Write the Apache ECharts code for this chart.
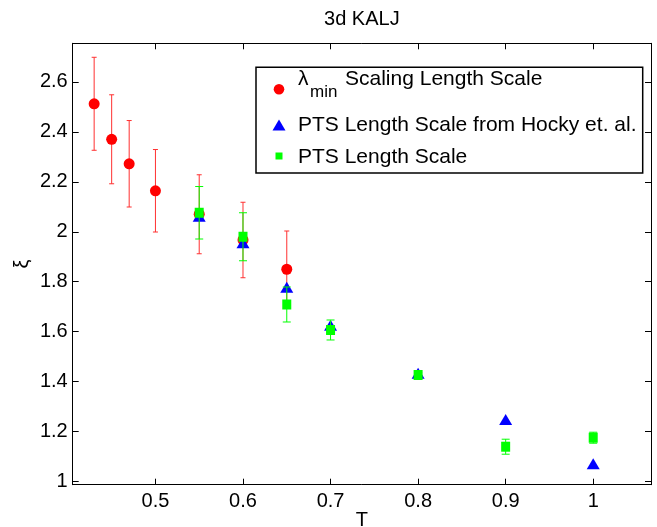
<!DOCTYPE html>
<html>
<head>
<meta charset="utf-8">
<script src="https://cdn.jsdelivr.net/npm/echarts@6/dist/echarts.min.js"></script>
<style>html,body{margin:0;padding:0;background:#fff}#c{width:657px;height:527px}</style>
</head>
<body>
<div id="c"></div>
<script>
// ---- data ----
const redX   = [0.43, 0.45, 0.47, 0.50, 0.55, 0.60, 0.65];
const redY   = [2.512, 2.370, 2.272, 2.164, 2.070, 1.967, 1.850];
const redErr = [0.186, 0.178, 0.173, 0.165, 0.158, 0.151, 0.153];

const blueX  = [0.55, 0.60, 0.65, 0.70, 0.80, 0.90, 1.00];
const blueY  = [2.062, 1.956, 1.778, 1.626, 1.434, 1.249, 1.072];

const greenX   = [0.55, 0.60, 0.65, 0.70, 0.80, 0.90, 1.00];
const greenY   = [2.076, 1.980, 1.709, 1.607, 1.427, 1.140, 1.176];
const greenErr = [0.105, 0.096, 0.070, 0.040, 0.010, 0.030, 0.022];

const xTicks = [0.5, 0.6, 0.7, 0.8, 0.9, 1];
const yTicks = [1, 1.2, 1.4, 1.6, 1.8, 2, 2.2, 2.4, 2.6];
const xMin = 0.4055, xMax = 1.066;
const yMin = 0.988, yMax = 2.754;

const titleText = '3d KALJ';
const xName = 'T';
const yName = 'ξ';
const legendNames = ['Scaling Length Scale', 'PTS Length Scale from Hocky et. al.', 'PTS Length Scale'];

// ---- build ----
const FONT = '"Liberation Sans", Arial, sans-serif';
const pts = (xs, ys) => xs.map((x, i) => [x, ys[i]]);
const errs = (xs, ys, es) => xs.map((x, i) => [x, ys[i] - es[i], ys[i] + es[i]]);

function errRender(capHalf, color) {
  return function (params, api) {
    const x = api.value(0), lo = api.value(1), hi = api.value(2);
    const a = api.coord([x, lo]), b = api.coord([x, hi]);
    const st = { stroke: color, lineWidth: 1 };
    return {
      type: 'group',
      children: [
        { type: 'line', shape: { x1: a[0], y1: a[1], x2: b[0], y2: b[1] }, style: st },
        { type: 'line', shape: { x1: a[0] - capHalf, y1: a[1], x2: a[0] + capHalf, y2: a[1] }, style: st },
        { type: 'line', shape: { x1: b[0] - capHalf, y1: b[1], x2: b[0] + capHalf, y2: b[1] }, style: st }
      ]
    };
  };
}

const axisLineStyle = { lineStyle: { color: '#000', width: 1 } };
function xAx(pos, labels) {
  return {
    type: 'value', position: pos, min: xMin, max: xMax,
    axisLine: Object.assign({ show: true, onZero: false }, axisLineStyle),
    axisTick: { show: true, inside: true, length: 6, customValues: xTicks, lineStyle: { color: '#000' } },
    axisLabel: { show: labels, customValues: xTicks, color: '#000', fontSize: 20, fontFamily: FONT, margin: 7,
                 formatter: v => String(Math.round(v * 10) / 10) },
    splitLine: { show: false }
  };
}
function yAx(pos, labels) {
  return {
    type: 'value', position: pos, min: yMin, max: yMax,
    axisLine: Object.assign({ show: true, onZero: false }, axisLineStyle),
    axisTick: { show: true, inside: true, length: 6, customValues: yTicks, lineStyle: { color: '#000' } },
    axisLabel: { show: labels, customValues: yTicks, color: '#000', fontSize: 20, fontFamily: FONT, margin: 5,
                 formatter: v => String(Math.round(v * 10) / 10) },
    splitLine: { show: false }
  };
}

const chart = echarts.init(document.getElementById('c'), null, { renderer: 'canvas' });
const gL = 72.7, gR = 6, gT = 43.3, gB = 42.3;
const plotCx = gL + (657 - gL - gR) / 2;

const lx = 256, ly = 67.3, lw = 386.7, lh = 105.7;
const legendTxt = { fill: '#000', fontSize: 21, fontFamily: FONT, verticalAlign: 'middle' };

chart.setOption({
  animation: false,
  backgroundColor: '#fff',
  grid: { left: gL, right: gR, top: gT, bottom: gB, containLabel: false, outerBoundsMode: 'none' },
  xAxis: [xAx('bottom', true), xAx('top', false)],
  yAxis: [yAx('left', true), yAx('right', false)],
  series: [
    { type: 'custom', name: 'redErr', xAxisIndex: 0, yAxisIndex: 0, renderItem: errRender(2.5, '#ff3030'),
      data: errs(redX, redY, redErr), z: 1 },
    { type: 'scatter', name: legendNames[0], symbol: 'circle', symbolSize: 11,
      itemStyle: { color: '#ff0000', opacity: 1 }, data: pts(redX, redY), z: 2 },
    { type: 'scatter', name: legendNames[1], symbol: 'triangle', symbolSize: [13, 11],
      itemStyle: { color: '#0000ff', opacity: 1 }, data: pts(blueX, blueY), z: 3 },
    { type: 'custom', name: 'greenErr', renderItem: errRender(4, '#00ff00'),
      data: errs(greenX, greenY, greenErr), z: 4 },
    { type: 'scatter', name: legendNames[2], symbol: 'rect', symbolSize: [9, 10],
      itemStyle: { color: '#00ff00', opacity: 1 }, data: pts(greenX, greenY), z: 5 }
  ],
  graphic: [
    { type: 'text', x: plotCx, y: 19, style: { text: titleText, fill: '#000', fontSize: 20, fontFamily: FONT, align: 'center', verticalAlign: 'middle' } },
    { type: 'text', x: plotCx, y: 520, style: { text: xName, fill: '#000', fontSize: 20, fontFamily: FONT, align: 'center', verticalAlign: 'middle' } },
    { type: 'text', x: 22, y: 264, rotation: Math.PI / 2, style: { text: yName, fill: '#000', fontSize: 20, fontFamily: FONT, align: 'center', verticalAlign: 'middle' } },
    // legend
    { type: 'rect', shape: { x: lx, y: ly, width: lw, height: lh }, style: { fill: '#fff', stroke: '#000', lineWidth: 1.5 }, z: 100 },
    { type: 'circle', shape: { cx: 279, cy: 89.3, r: 5.3 }, style: { fill: '#ff0000' }, z: 101 },
    { type: 'polygon', shape: { points: [[279, 119.5], [285.5, 130.5], [272.5, 130.5]] }, style: { fill: '#0000ff' }, z: 101 },
    { type: 'rect', shape: { x: 275.5, y: 152.5, width: 7, height: 7 }, style: { fill: '#00ff00' }, z: 101 },
    { type: 'text', x: 298, y: 79.7, style: Object.assign({ text: 'λ' }, legendTxt), z: 101 },
    { type: 'text', x: 310, y: 92, style: { text: 'min', fill: '#000', fontSize: 17, fontFamily: FONT, verticalAlign: 'middle' }, z: 101 },
    { type: 'text', x: 345, y: 79.7, style: Object.assign({ text: legendNames[0] }, legendTxt), z: 101 },
    { type: 'text', x: 298, y: 125.3, style: Object.assign({ text: legendNames[1] }, legendTxt), z: 101 },
    { type: 'text', x: 298, y: 157.3, style: Object.assign({ text: legendNames[2] }, legendTxt), z: 101 }
  ]
});
</script>
</body>
</html>
